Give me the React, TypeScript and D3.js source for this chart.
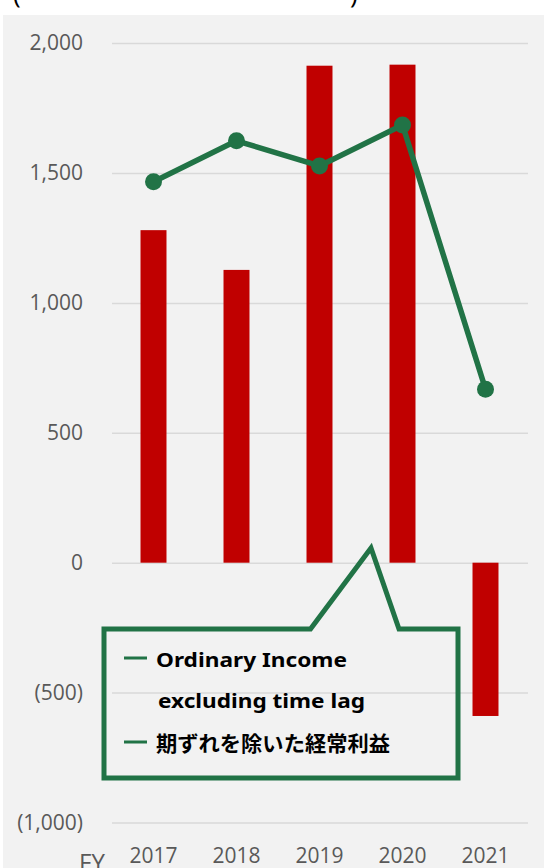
import * as d3 from "d3";
import { useEffect, useRef } from "react";

const years = ["2017", "2018", "2019", "2020", "2021"];
const barValues = [1280, 1127, 1913, 1917, -590];
const lineValues = [1466, 1624, 1527, 1685, 668];
const yTicks = [-1000, -500, 0, 500, 1000, 1500, 2000];
const legendEn = ["Ordinary Income", "excluding time lag"];
const legendJa = "期ずれを除いた経常利益";

const W = 544;
const H = 868;

export default function App() {
  const svgRef = useRef<SVGSVGElement | null>(null);

  useEffect(() => {
    const svg = d3.select(svgRef.current);
    svg.selectAll("*").remove();
    svg.attr("width", W).attr("height", H);

    const green = "#217346";
    const axisFont = "'Open Sans', 'Noto Sans', sans-serif";

    // cut-off title parentheses above the chart
    svg.append("text").attr("x", 13).attr("y", 3).attr("font-size", 26).attr("font-family", axisFont).attr("fill", "#000").text("(");
    svg.append("text").attr("x", 350).attr("y", 3).attr("font-size", 26).attr("font-family", axisFont).attr("fill", "#000").text(")");

    svg.append("rect").attr("x", 3).attr("y", 15).attr("width", W - 3).attr("height", H - 15).attr("fill", "#f2f2f2");

    const x = d3.scaleBand<string>().domain(years).range([112, 527]).paddingInner(0.687).paddingOuter(0.3435);
    const y = d3.scaleLinear().domain([-1000, 2000]).range([822.5, 43.1]);

    // gridlines
    svg.append("g")
      .attr("transform", "translate(112,0)")
      .call(d3.axisLeft(y).tickValues(yTicks).tickSize(-(528 - 112)).tickFormat(() => ""))
      .call(g => g.select(".domain").remove())
      .call(g => g.selectAll("line").attr("stroke", "#d9d9d9").attr("stroke-width", 1.5));

    const fmt = d3.format(",");
    svg.append("g")
      .attr("transform", "translate(112,0)")
      .call(d3.axisLeft(y).tickValues(yTicks).tickSize(0).tickPadding(29)
        .tickFormat(v => (+v < 0 ? `(${fmt(-v)})` : fmt(+v))))
      .call(g => g.select(".domain").remove())
      .call(g => g.selectAll("text").attr("font-size", 21).attr("font-family", axisFont).attr("fill", "#595959"));

    svg.append("g")
      .attr("transform", "translate(0,848)")
      .call(d3.axisBottom(x).tickSize(0).tickPadding(0))
      .call(g => g.select(".domain").remove())
      .call(g => g.selectAll("text").attr("font-size", 21).attr("font-family", axisFont).attr("fill", "#595959"));

    svg.append("text").attr("x", 79).attr("y", 871).attr("font-size", 24).attr("font-family", axisFont).attr("fill", "#595959").text("FY");

    // bars
    svg.append("g")
      .selectAll("rect")
      .data(barValues)
      .join("rect")
      .attr("x", (_, i) => x(years[i])!)
      .attr("width", x.bandwidth())
      .attr("y", d => y(Math.max(0, d)))
      .attr("height", d => Math.abs(y(d) - y(0)))
      .attr("fill", "#c00000");

    // line
    const line = d3.line<number>()
      .x((_, i) => x(years[i])! + x.bandwidth() / 2)
      .y(d => y(d));

    svg.append("path")
      .datum(lineValues)
      .attr("fill", "none")
      .attr("stroke", green)
      .attr("stroke-width", 5.5)
      .attr("stroke-linejoin", "round")
      .attr("d", line);

    svg.append("g")
      .selectAll("circle")
      .data(lineValues)
      .join("circle")
      .attr("cx", (_, i) => x(years[i])! + x.bandwidth() / 2)
      .attr("cy", d => y(d))
      .attr("r", 8.5)
      .attr("fill", green);

    // callout legend
    const callout = [
      [104, 629], [310.5, 629], [371, 548], [399, 629], [458, 629], [458, 778], [104, 778],
    ];
    svg.append("path")
      .attr("d", "M" + callout.map(p => p.join(",")).join("L") + "Z")
      .attr("fill", "none")
      .attr("stroke", green)
      .attr("stroke-width", 5)
      .attr("stroke-linejoin", "miter");

    const legendFont = "'Noto Sans', 'DejaVu Sans', sans-serif";
    const lg = svg.append("g");
    [658, 742].forEach(yy => {
      lg.append("line").attr("x1", 124).attr("x2", 147).attr("y1", yy).attr("y2", yy)
        .attr("stroke", green).attr("stroke-width", 3);
    });
    lg.append("text").attr("x", 156).attr("y", 667).attr("font-size", 20).attr("font-weight", 700)
      .attr("font-family", legendFont).attr("fill", "#000")
      .attr("textLength", 191).attr("lengthAdjust", "spacingAndGlyphs").text(legendEn[0]);
    lg.append("text").attr("x", 158).attr("y", 708).attr("font-size", 20).attr("font-weight", 700)
      .attr("font-family", legendFont).attr("fill", "#000")
      .attr("textLength", 207).attr("lengthAdjust", "spacingAndGlyphs").text(legendEn[1]);
    lg.append("text").attr("x", 156).attr("y", 751).attr("font-size", 21).attr("font-weight", 700)
      .attr("font-family", "'Noto Sans CJK JP', sans-serif").attr("fill", "#000")
      .attr("textLength", 234).attr("lengthAdjust", "spacingAndGlyphs").text(legendJa);
  }, []);

  return (
    <div style={{ position: "absolute", left: 0, top: 0 }}>
      <svg ref={svgRef} style={{ display: "block" }} />
    </div>
  );
}
